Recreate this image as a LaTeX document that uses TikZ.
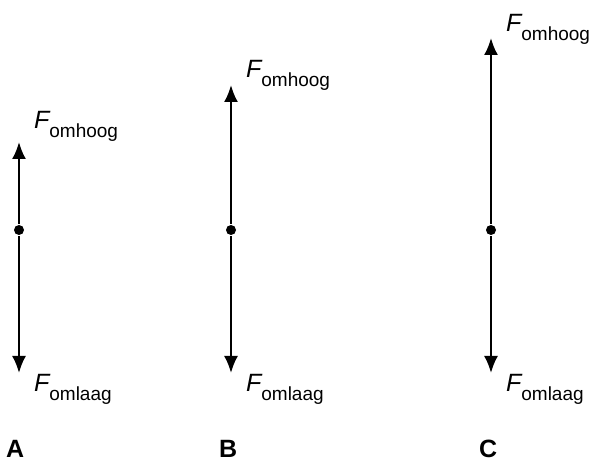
\documentclass[tikz,border=0pt]{standalone}
\usepackage{fontspec}
\setmainfont{Liberation Sans}
\usetikzlibrary{arrows.meta}
\newcommand{\kracht}[1]{{\fontsize{25}{30}\selectfont\itshape F}\raisebox{-9pt}{\fontsize{19}{22}\selectfont #1}}

\begin{document}
\begin{tikzpicture}[x=1pt,y=-1pt,-{Latex[length=17pt,width=14pt]},line width=2.2pt,
    dot/.style={circle,fill,inner sep=0pt,minimum size=10pt},
    lbl/.style={anchor=base west,inner sep=0pt},
    letter/.style={anchor=base west,inner sep=0pt,font=\fontsize{25}{30}\selectfont\bfseries}]
    \useasboundingbox (0,0) rectangle (590,462);
    % A
    \node[dot] (mA) at (19,230) {};
    \coordinate (upA) at (19,142);
    \coordinate (downA) at (19,373);
    \draw (mA) -- (upA);
    \draw (mA) -- (downA);
    \node[lbl] (fupA) at (33,129) {\kracht{omhoog}};
    \node[lbl] (fdownA) at (33,392) {\kracht{omlaag}};
    \node[letter] (A) at (5,458) {A};
    % B
    \node[dot] (mB) at (231,230) {};
    \coordinate (upB) at (231,85);
    \coordinate (downB) at (231,373);
    \draw (mB) -- (upB);
    \draw (mB) -- (downB);
    \node[lbl] (fupB) at (245,78) {\kracht{omhoog}};
    \node[lbl] (fdownB) at (245,392) {\kracht{omlaag}};
    \node[letter] (B) at (218,458) {B};
    % C
    \node[dot] (mC) at (491,230) {};
    \coordinate (upC) at (491,38);
    \coordinate (downC) at (491,373);
    \draw (mC) -- (upC);
    \draw (mC) -- (downC);
    \node[lbl] (fupC) at (505,32) {\kracht{omhoog}};
    \node[lbl] (fdownC) at (505,392) {\kracht{omlaag}};
    \node[letter] (C) at (478,458) {C};
\end{tikzpicture}
\end{document}
